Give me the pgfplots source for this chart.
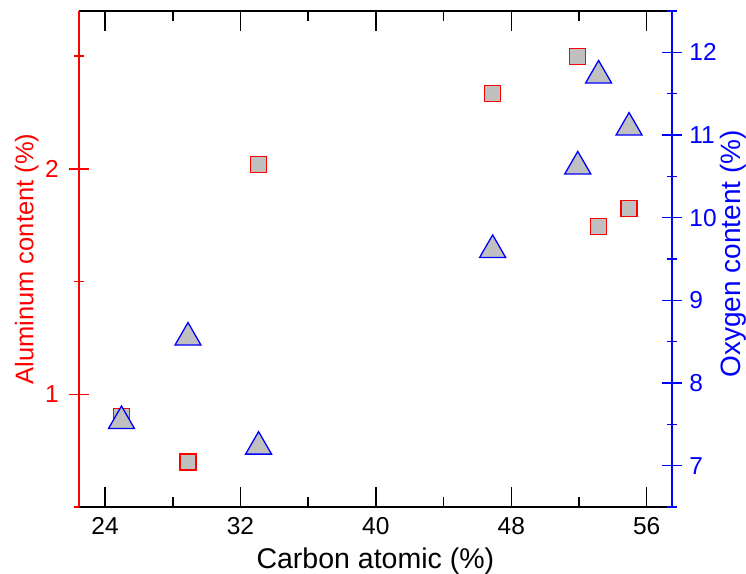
\documentclass[border=0pt]{standalone}
\usepackage{pgfplots}
\pgfplotsset{compat=1.18}
\usepackage{fontspec}
\setmainfont{Liberation Sans}
\definecolor{silv}{RGB}{192,192,192}
\pgfplotstableread{
x y
24.97 0.90
28.90 0.70
33.07 2.02
46.90 2.333
51.93 2.497
53.16 1.744
54.96 1.823
}\aldata
\pgfplotstableread{
x y
24.97 7.54
28.90 8.55
33.07 7.23
46.90 9.61
51.93 10.62
53.16 11.72
54.96 11.09
}\oxdata
\begin{document}
\begin{tikzpicture}
\pgfplotsset{
  common/.style={
    width=592.7pt, height=496pt, scale only axis,
    xmin=22.46, xmax=57.48,
    tick align=inside,
    major tick length=20pt, minor tick length=10pt,
    /pgf/number format/assume math mode=true,
    ticklabel style={font=\fontsize{24.5}{29}\selectfont, inner sep=0pt},
  }
}
\begin{axis}[common,
  axis x line=box, axis y line=left,
  x axis line style={black, line width=1.5pt, -},
  y axis line style={red, line width=1.8pt, -},
  xtick={24,32,40,48,56}, minor xtick={28,36,44,52},
  x tick style={black, line width=1.5pt},
  ymin=0.5, ymax=2.7, ytick={1,2}, minor ytick={0.5,1.5,2.5},
  y tick style={red, line width=1.5pt},
  yticklabel style={red, anchor=east, xshift=-10pt},
  xticklabel style={anchor=base, yshift=-28pt},
  xlabel={Carbon atomic (\%)},
  xlabel style={font=\fontsize{28.5}{34}\selectfont, at={([yshift=-62pt]axis description cs:0.5,0)}, anchor=base},
  ylabel={Aluminum content (\%)},
  ylabel style={red, font=\fontsize{25.5}{30}\selectfont, at={([xshift=-45.7pt]axis description cs:0,0.5)}, anchor=base},
]
\addplot[only marks, mark=square*, mark size=8pt, mark options={draw=red, fill=silv, line width=1.3pt}] table[x=x,y=y] {\aldata};
\end{axis}
\begin{axis}[common,
  axis x line=none, axis y line=right,
  y axis line style={blue, line width=1.8pt, -},
  ymin=6.5, ymax=12.5, ytick={7,8,9,10,11,12}, minor ytick={6.5,7.5,8.5,9.5,10.5,11.5,12.5},
  y tick style={blue, line width=1.5pt},
  yticklabel style={blue, anchor=west, xshift=7.5pt},
  ylabel={Oxygen content (\%)},
  ylabel style={blue, font=\fontsize{28}{33}\selectfont, at={([xshift=69pt,yshift=5pt]axis description cs:1,0.5)}, anchor=base},
]
\addplot[only marks, mark=triangle*, mark size=15pt, mark options={draw=blue, fill=silv, line width=1.3pt}] table[x=x,y=y] {\oxdata};
\end{axis}
\pgfresetboundingbox
\path[use as bounding box] ([xshift=-79pt,yshift=-67pt]current axis.south west) rectangle ([xshift=74.3pt,yshift=11pt]current axis.north east);
\end{tikzpicture}
\end{document}
